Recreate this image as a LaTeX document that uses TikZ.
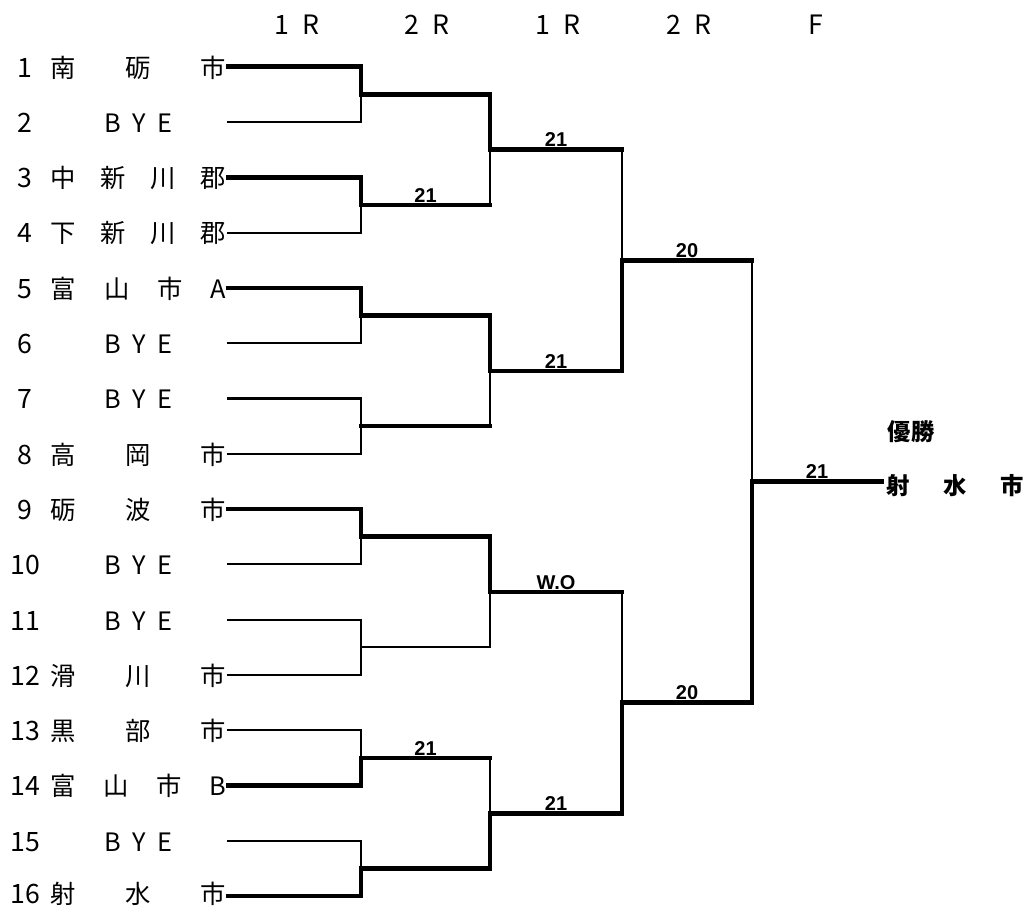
\documentclass[tikz,border=0pt]{standalone}
\usepackage{fontspec}
\setmainfont{Noto Sans CJK JP}
\newfontfamily\scorefont{Liberation Sans}
\usetikzlibrary{positioning, calc}
\tikzset{
  bracket/.style={
	x=0.75pt, y=-0.75pt, % one unit is one pixel of the sheet
	line cap=rect, % square line ends close the corners
  },
  win/.style={line width=3.4pt}, % the side that went on
  lose/.style={line width=1.6pt}, % the side that went out
  team/.style={inner sep=0pt, text depth=0pt, anchor=base west, font=\fontsize{19}{19}\selectfont},
  seed/.style={inner sep=0pt, text depth=0pt, anchor=base, font=\fontsize{20}{20}\selectfont},
  roundlabel/.style={inner sep=0pt, font=\fontsize{20}{20}\selectfont},
  score/.style={above, inner sep=0.4pt, font=\scorefont\bfseries\fontsize{15}{15}\selectfont},
  champion/.style={inner sep=0pt, font=\bfseries\fontsize{17.5}{17.5}\selectfont},
}

\begin{document}
\begin{tikzpicture}[bracket]
\useasboundingbox (0,0) rectangle (1027,907);

% rounds
\node[roundlabel] (h1) at (297,25) {1\hspace{0.5em}R};
\node[roundlabel] (h2) at (427,25) {2\hspace{0.5em}R};
\node[roundlabel] (h3) at (558,25) {1\hspace{0.5em}R};
\node[roundlabel] (h4) at (689,25) {2\hspace{0.5em}R};
\node[roundlabel] (h5) at (816,25) {F};

% teams (the last row is kept inside the sheet)
\foreach \i in {1,...,16} {
  \coordinate (t\i) at (228, {66.7+(\i-1)*55.3});
  \coordinate (e\i) at (361, {66.7+(\i-1)*55.3});
  \node[seed] (num\i) at (25, {min(77+(\i-1)*55.3, 903)}) {\i};
}
\foreach \i/\nm in {1/南\hfill 砺\hfill 市, 2/\hfill B\hspace{.45em}Y\hspace{.45em}E\hfill,
    3/中\hfill 新\hfill 川\hfill 郡, 4/下\hfill 新\hfill 川\hfill 郡,
    5/富\hfill 山\hfill 市\hfill A, 6/\hfill B\hspace{.45em}Y\hspace{.45em}E\hfill,
    7/\hfill B\hspace{.45em}Y\hspace{.45em}E\hfill, 8/高\hfill 岡\hfill 市,
    9/砺\hfill 波\hfill 市, 10/\hfill B\hspace{.45em}Y\hspace{.45em}E\hfill,
    11/\hfill B\hspace{.45em}Y\hspace{.45em}E\hfill, 12/滑\hfill 川\hfill 市,
    13/黒\hfill 部\hfill 市, 14/富\hfill 山\hfill 市\hfill B,
    15/\hfill B\hspace{.45em}Y\hspace{.45em}E\hfill, 16/射\hfill 水\hfill 市} {
  \node[team] (name\i) at (50.5, {min(77+(\i-1)*55.3, 903)}) {\makebox[131.5pt]{\nm}};
}

% meeting points
\foreach \k in {1,...,8} {
  \coordinate (a\k) at (361, {66.7+(2*\k-1.5)*55.3});
  \coordinate (b\k) at (490, {66.7+(2*\k-1.5)*55.3});
}
\foreach \k in {1,...,4} {
  \coordinate (c\k) at (490, {66.7+(4*\k-2.5)*55.3});
  \coordinate (d\k) at (622, {66.7+(4*\k-2.5)*55.3});
}
\foreach \k in {1,2} {
  \coordinate (f\k) at (622, {66.7+(8*\k-4.5)*55.3});
  \coordinate (g\k) at (752, {66.7+(8*\k-4.5)*55.3});
}
\coordinate (m) at (752, {66.7+7.5*55.3});
\coordinate (w) at (882, {66.7+7.5*55.3});

% first round
\draw[win]  (t1) -- (e1) -- (a1);
\draw[lose] (t2) -- (e2) -- (a1);
\draw[win]  (t3) -- (e3) -- (a2);
\draw[lose] (t4) -- (e4) -- (a2);
\draw[win]  (t5) -- (e5) -- (a3);
\draw[lose] (t6) -- (e6) -- (a3);
\draw[lose] (t7) -- (e7) -- (a4);
\draw[lose] (t8) -- (e8) -- (a4);
\draw[win]  (t9) -- (e9) -- (a5);
\draw[lose] (t10) -- (e10) -- (a5);
\draw[lose] (t11) -- (e11) -- (a6);
\draw[lose] (t12) -- (e12) -- (a6);
\draw[lose] (t13) -- (e13) -- (a7);
\draw[win]  (t14) -- (e14) -- (a7);
\draw[lose] (t15) -- (e15) -- (a8);
\draw[win]  (t16) -- (e16) -- (a8);

% second round
\draw[win]  (a1) -- (b1) -- (c1);
\draw[win]  (a2) -- node[score]{21} (b2);
\draw[lose] (b2) -- (c1);
\draw[win]  (a3) -- (b3) -- (c2);
\draw[win]  (a4) -- (b4);
\draw[lose] (b4) -- (c2);
\draw[win]  (a5) -- (b5) -- (c3);
\draw[lose] (a6) -- (b6) -- (c3);
\draw[win]  (a7) -- node[score]{21} (b7);
\draw[lose] (b7) -- (c4);
\draw[win]  (a8) -- (b8) -- (c4);

% third and fourth round
\draw[win]  (c1) -- node[score]{21} (d1);
\draw[lose] (d1) -- (f1);
\draw[win]  (c2) -- node[score]{21} (d2);
\draw[win]  (d2) -- (f1);
\draw[win]  (c3) -- node[score]{W.O} (d3);
\draw[lose] (d3) -- (f2);
\draw[win]  (c4) -- node[score]{21} (d4);
\draw[win]  (d4) -- (f2);
\draw[win]  (f1) -- node[score]{20} (g1);
\draw[lose] (g1) -- (m);
\draw[win]  (f2) -- node[score]{20} (g2);
\draw[win]  (g2) -- (m);

% final
\draw[win]  (m) -- node[score]{21} (w);
\node[champion, anchor=west] (winner) at ($(w)+(4,4)$) {\makebox[103.5pt]{射\hfill 水\hfill 市}};
\node[champion] (title) at (911,432) {優勝};
\end{tikzpicture}
\end{document}
